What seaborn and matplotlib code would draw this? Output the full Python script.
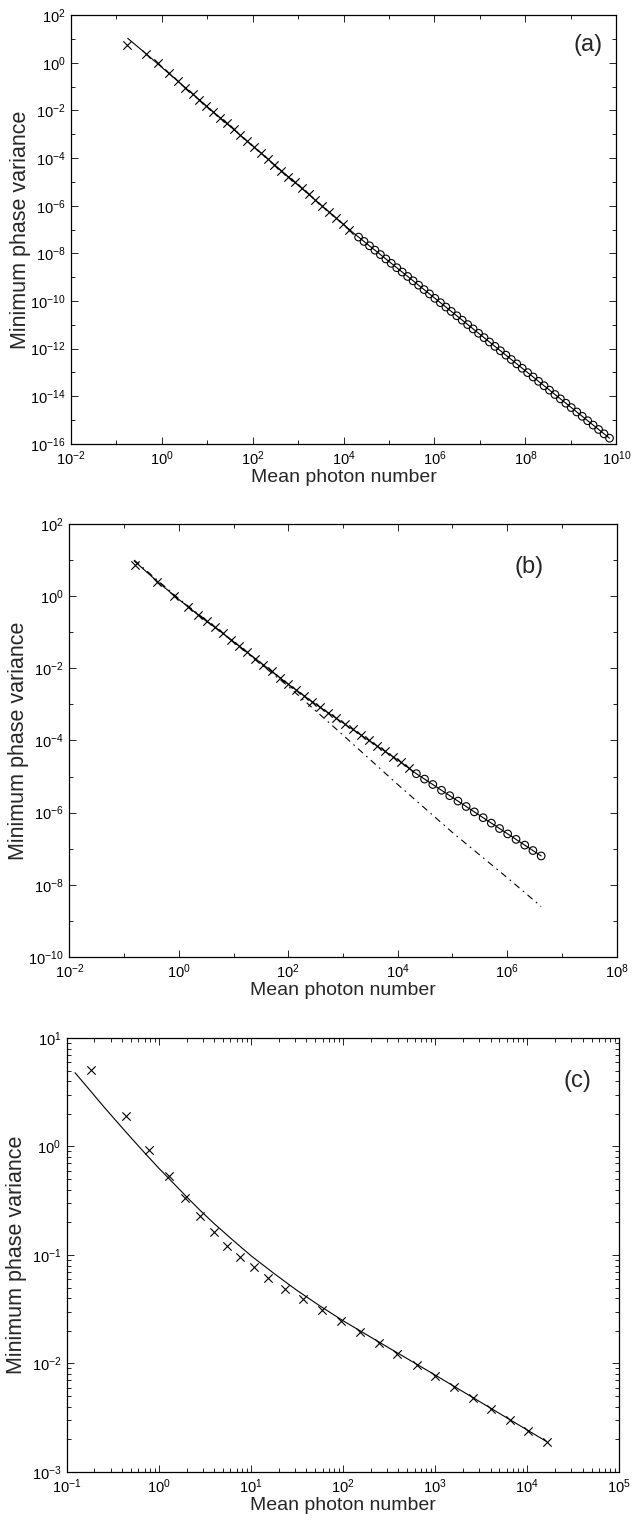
import matplotlib
matplotlib.use("Agg")
import matplotlib.pyplot as plt
from matplotlib.ticker import FixedLocator, NullFormatter
import seaborn as sns

# ---------------- panel (a) ----------------
a_cross_n = [0.171, 0.447, 0.832, 1.45, 2.24, 3.31, 4.79, 6.76, 9.55, 13.5, 19.1, 26.9, 38.0,
             53.7, 75.9, 107, 151, 214, 302, 427, 603, 851, 1200, 1700, 2400, 3390, 4790, 6760,
             9550, 13500]
a_cross_var = [5.5, 2.29, 0.955, 0.380, 0.172, 0.0899, 0.0490, 0.0277, 0.0157, 8.87e-3, 5.02e-3,
               2.84e-3, 1.61e-3, 9.08e-4, 5.13e-4, 2.90e-4, 1.64e-4, 9.29e-5, 5.25e-5, 2.97e-5,
               1.68e-5, 9.51e-6, 5.38e-6, 3.04e-6, 1.72e-6, 9.73e-7, 5.50e-7, 3.11e-7, 1.76e-7,
               9.95e-8]
a_circ_n = [2.14e4, 2.82e4, 3.72e4, 4.90e4, 6.46e4, 8.51e4, 1.12e5, 1.48e5, 1.95e5, 2.57e5,
            3.39e5, 4.47e5, 5.89e5, 7.76e5, 1.02e6, 1.35e6, 1.78e6, 2.34e6, 3.09e6, 4.07e6,
            5.37e6, 7.08e6, 9.33e6, 1.23e7, 1.62e7, 2.14e7, 2.82e7, 3.72e7, 4.90e7, 6.46e7,
            8.51e7, 1.12e8, 1.48e8, 1.95e8, 2.57e8, 3.39e8, 4.47e8, 5.89e8, 7.76e8, 1.02e9,
            1.35e9, 1.78e9, 2.34e9, 3.09e9, 4.07e9, 5.37e9, 7.08e9]
a_circ_var = [4.81e-8, 3.16e-8, 2.07e-8, 1.36e-8, 8.87e-9, 5.81e-9, 3.81e-9, 2.49e-9, 1.64e-9,
              1.07e-9, 7.01e-10, 4.60e-10, 3.01e-10, 1.98e-10, 1.29e-10, 8.47e-11, 5.56e-11,
              3.64e-11, 2.39e-11, 1.56e-11, 1.02e-11, 6.71e-12, 4.40e-12, 2.88e-12, 1.89e-12,
              1.24e-12, 8.11e-13, 5.31e-13, 3.48e-13, 2.28e-13, 1.49e-13, 9.79e-14, 6.41e-14,
              4.21e-14, 2.75e-14, 1.80e-14, 1.18e-14, 7.74e-15, 5.08e-15, 3.33e-15, 2.18e-15,
              1.43e-15, 9.35e-16, 6.14e-16, 4.02e-16, 2.63e-16, 1.73e-16]
a_line_n = [0.178, 0.447, 10, 100, 1000, 16200, 1e6, 1e8, 7.08e9]
a_line_var = [10.7, 2.45, 0.0145, 3.25e-4, 7.29e-6, 7.35e-8, 1.34e-10, 1.17e-13, 1.73e-16]

# ---------------- panel (b) ----------------
b_cross_n = [0.158, 0.398, 0.832, 1.45, 2.21, 3.24, 4.57, 6.43, 9.04, 12.7, 17.9, 25.1, 35.3,
             49.7, 69.8, 98.2, 138, 194, 273, 384, 540, 759, 1070, 1500, 2110, 2960, 4170,
             5860, 8240, 11600, 16300]
b_cross_var = [7.08, 2.51, 1.01, 0.513, 0.302, 0.200, 0.138, 0.0923, 0.0617, 0.0413, 0.0276,
               0.0185, 0.0124, 8.27e-3, 5.53e-3, 3.70e-3, 2.47e-3, 1.67e-3, 1.17e-3, 8.26e-4,
               5.82e-4, 4.09e-4, 2.88e-4, 2.03e-4, 1.43e-4, 1.01e-4, 7.08e-5, 4.99e-5, 3.52e-5,
               2.47e-5, 1.74e-5]
b_circ_n = [2.19e4, 3.09e4, 4.37e4, 6.31e4, 8.91e4, 1.26e5, 1.78e5, 2.51e5, 3.63e5, 5.13e5,
            7.24e5, 1.02e6, 1.45e6, 2.09e6, 2.95e6, 4.17e6]
b_circ_var = [1.20e-5, 8.51e-6, 6.03e-6, 4.17e-6, 2.95e-6, 2.09e-6, 1.48e-6, 1.05e-6, 7.24e-7,
              5.13e-7, 3.63e-7, 2.57e-7, 1.82e-7, 1.26e-7, 8.91e-8, 6.31e-8]
b_line_n = [0.153, 0.40, 1, 3.16, 4.57, 10, 31.6, 100, 316, 1000, 1e4, 2.19e4, 1e5, 1e6, 4.17e6]
b_line_var = [9.44, 2.6, 0.81, 0.204, 0.138, 0.0548, 0.0141, 3.62e-3, 1.01e-3, 3.08e-4, 2.88e-5,
              1.2e-5, 2.63e-6, 2.63e-7, 6.31e-8]
b_dash_n = [0.153, 1, 10, 100, 1000, 1e4, 1e5, 1e6, 4.17e6]
b_dash_var = [10.0, 0.851, 0.0537, 3.16e-3, 1.41e-4, 6.03e-6, 2.82e-7, 1.58e-8, 2.51e-9]

# ---------------- panel (c) ----------------
c_cross_n = [0.184, 0.44, 0.785, 1.29, 1.93, 2.81, 3.93, 5.44, 7.6, 10.7, 15.5, 23.4, 37, 59.6,
             95, 153, 246, 389, 631, 1000, 1610, 2570, 4060, 6460, 10300, 16300]
c_cross_var = [5.07, 1.92, 0.93, 0.535, 0.337, 0.229, 0.164, 0.122, 0.0966, 0.077, 0.062, 0.049,
               0.039, 0.0311, 0.0247, 0.0197, 0.0154, 0.01225, 0.0097, 0.00767, 0.0061, 0.00484,
               0.0038, 0.0030, 0.0024, 0.0019]
c_line_n = [0.123, 0.178, 0.251, 0.355, 0.501, 0.708, 1.0, 1.41, 2.0, 2.82, 3.98, 6.31, 10,
            17.8, 31.6, 56.2, 100, 316, 1000, 3160, 16200]
c_line_var = [4.79, 3.31, 2.34, 1.67, 1.20, 0.867, 0.631, 0.468, 0.344, 0.257, 0.195, 0.138,
              0.0986, 0.0676, 0.0472, 0.0339, 0.0248, 0.0139, 7.83e-3, 4.37e-3, 1.91e-3]

sns.set_theme(style="ticks")
plt.rcParams['font.family'] = ['Liberation Sans', 'DejaVu Sans']
plt.rcParams['mathtext.fontset'] = 'custom'
plt.rcParams['mathtext.rm'] = 'Liberation Sans'
plt.rcParams['mathtext.it'] = 'Liberation Sans:italic'
plt.rcParams['mathtext.bf'] = 'Liberation Sans:bold'

fig = plt.figure(figsize=(6.44, 15.2), dpi=100)
ax_a = fig.add_axes([0.110, 0.708, 0.847, 0.282])
ax_b = fig.add_axes([0.1076, 0.3704, 0.850, 0.2849])
ax_c = fig.add_axes([0.1036, 0.0316, 0.858, 0.2855])

LW = 0.8


def decade_ticks(lo, hi, step=1):
    return [10.0 ** k for k in range(lo, hi + 1, step)]


def sub_ticks(lo, hi):
    # 2..9 x 10^k inside the decades lo..hi-1
    return [m * 10.0 ** k for k in range(lo, hi) for m in range(2, 10)]


def style_axes(ax, xlim, ylim, xmaj, xmin, ymaj, ymin):
    ax.set_xscale('log')
    ax.set_yscale('log')
    ax.set_xlim(*xlim)
    ax.set_ylim(*ylim)
    ax.xaxis.set_major_locator(FixedLocator(xmaj))
    ax.xaxis.set_minor_locator(FixedLocator(xmin))
    ax.yaxis.set_major_locator(FixedLocator(ymaj))
    ax.yaxis.set_minor_locator(FixedLocator(ymin))
    ax.xaxis.set_minor_formatter(NullFormatter())
    ax.yaxis.set_minor_formatter(NullFormatter())
    ax.tick_params(which='both', direction='in', top=True, right=True, width=0.6,
                   colors='black', labelsize=10.5, pad=4)
    ax.tick_params(which='major', length=5)
    ax.tick_params(which='minor', length=3)
    for s in ax.spines.values():
        s.set_linewidth(0.9)
        s.set_color('black')
    ax.set_xlabel('Mean photon number', fontsize=14, va='top')
    ax.set_ylabel('Minimum phase variance', fontsize=15.5)
    # label positions in pixels from the axes edges
    h = ax.get_position().height * fig.get_figheight() * fig.dpi
    w = ax.get_position().width * fig.get_figwidth() * fig.dpi
    ax.xaxis.set_label_coords(0.5, -25.5 / h)
    ax.yaxis.set_label_coords(-40.0 / w, 0.5)


# panel (a)
sns.lineplot(x=a_line_n, y=a_line_var, ax=ax_a, color='black', lw=LW, sort=False, estimator=None)
sns.scatterplot(x=a_cross_n, y=a_cross_var, ax=ax_a, marker='x', s=36, color='black', linewidth=0.8)
sns.scatterplot(x=a_circ_n, y=a_circ_var, ax=ax_a, marker='o', s=30, facecolors='none',
                edgecolor='black', linewidth=0.8)
style_axes(ax_a, (1e-2, 1e10), (1e-16, 1e2),
           decade_ticks(-2, 10, 2), decade_ticks(-1, 9, 2),
           decade_ticks(-16, 2, 2), decade_ticks(-15, 1, 2))
ax_a.text(0.948, 0.93, '(a)', transform=ax_a.transAxes, fontsize=17, ha='center', va='center')

# panel (b)
sns.lineplot(x=b_dash_n, y=b_dash_var, ax=ax_b, color='black', lw=LW, sort=False, estimator=None,
             dashes=False)
ax_b.lines[-1].set_dashes([6, 4, 1.5, 4])
sns.lineplot(x=b_line_n, y=b_line_var, ax=ax_b, color='black', lw=LW, sort=False, estimator=None)
sns.scatterplot(x=b_cross_n, y=b_cross_var, ax=ax_b, marker='x', s=36, color='black', linewidth=0.8)
sns.scatterplot(x=b_circ_n, y=b_circ_var, ax=ax_b, marker='o', s=30, facecolors='none',
                edgecolor='black', linewidth=0.8)
style_axes(ax_b, (1e-2, 1e8), (1e-10, 1e2),
           decade_ticks(-2, 8, 2), decade_ticks(-1, 7, 2),
           decade_ticks(-10, 2, 2), decade_ticks(-9, 1, 2))
ax_b.text(0.84, 0.90, '(b)', transform=ax_b.transAxes, fontsize=17, ha='center', va='center')

# panel (c)
sns.lineplot(x=c_line_n, y=c_line_var, ax=ax_c, color='black', lw=LW, sort=False, estimator=None)
sns.scatterplot(x=c_cross_n, y=c_cross_var, ax=ax_c, marker='x', s=36, color='black', linewidth=0.8)
style_axes(ax_c, (1e-1, 1e5), (1e-3, 1e1),
           decade_ticks(-1, 5), sub_ticks(-1, 5),
           decade_ticks(-3, 1), sub_ticks(-3, 1))
ax_c.text(0.924, 0.90, '(c)', transform=ax_c.transAxes, fontsize=17, ha='center', va='center')

fig.savefig('out.png', dpi=100)
